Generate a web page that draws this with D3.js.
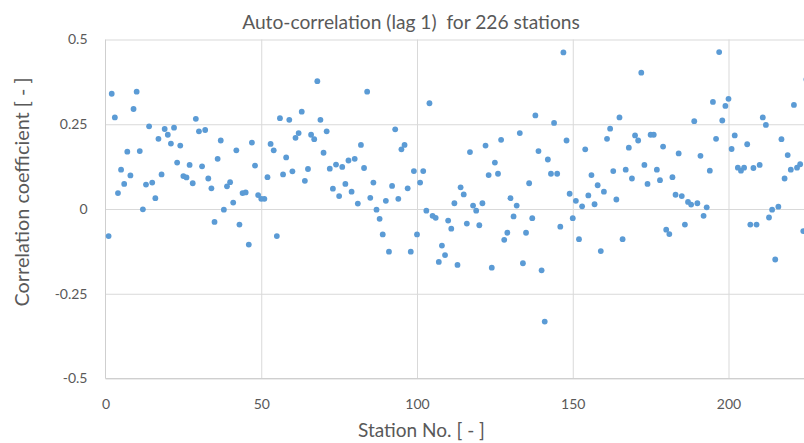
<!DOCTYPE html>
<html>
<head>
<meta charset="utf-8">
<script src="https://cdn.jsdelivr.net/npm/d3@7"></script>
<style>
  html, body { margin: 0; padding: 0; background: #ffffff; overflow: hidden; }
  svg { display: block; }
  text { font-family: Lato, "Open Sans", sans-serif; fill: #595959; }
</style>
</head>
<body>
<svg id="chart" width="804" height="443"></svg>
<script>
// ---- data ----
const titleText = "Auto-correlation (lag 1)  for 226 stations";
const xLabelText = "Station No. [ - ]";
const yLabelText = "Correlation coefficient [ - ]";
const xTicks = [0, 50, 100, 150, 200];
const yTicks = [-0.5, -0.25, 0, 0.25, 0.5];
const yTickLabels = ["-0.5", "-0.25", "0", "0.25", "0.5"];
const stations = d3.range(1, 227);
const correlations = [
  -0.080, 0.340, 0.270, 0.047, 0.116, 0.074, 0.169, 0.099, 0.295, 0.346,
   0.171,-0.001, 0.072, 0.244, 0.078, 0.032, 0.207, 0.102, 0.236, 0.219,
   0.193, 0.240, 0.137, 0.187, 0.097, 0.093, 0.130, 0.076, 0.266, 0.229,
   0.126, 0.233, 0.090, 0.061,-0.038, 0.148, 0.202,-0.002, 0.067, 0.079,
   0.019, 0.173,-0.046, 0.047, 0.049,-0.105, 0.196, 0.128, 0.041, 0.030,
   0.030, 0.094, 0.192, 0.173,-0.080, 0.268, 0.102, 0.152, 0.263, 0.111,
   0.210, 0.224, 0.287, 0.083, 0.118, 0.219, 0.206, 0.377, 0.263, 0.166,
   0.229, 0.119, 0.060, 0.131, 0.038, 0.124, 0.074, 0.143, 0.051, 0.148,
   0.016, 0.189, 0.121, 0.346, 0.033, 0.078,-0.002,-0.029,-0.075, 0.024,
  -0.126, 0.068, 0.235, 0.030, 0.176, 0.189, 0.061,-0.126, 0.112,-0.075,
   0.078, 0.112,-0.005, 0.312,-0.020,-0.026,-0.156,-0.108,-0.136,-0.034,
  -0.058, 0.017,-0.165, 0.064, 0.043,-0.043, 0.168, 0.010,-0.005,-0.048,
   0.017, 0.187, 0.100,-0.173, 0.137, 0.104, 0.204,-0.091,-0.070, 0.032,
  -0.022, 0.010, 0.224,-0.160,-0.070, 0.076,-0.027, 0.276, 0.171,-0.181,
  -0.332, 0.146, 0.104, 0.254, 0.104,-0.052, 0.462, 0.202, 0.045,-0.027,
   0.024,-0.089, 0.008, 0.176, 0.040, 0.100, 0.014, 0.070,-0.124, 0.051,
   0.207, 0.237, 0.112, 0.028, 0.270,-0.089, 0.116, 0.181, 0.090, 0.217,
   0.202, 0.402, 0.130, 0.074, 0.219, 0.219, 0.116, 0.085, 0.184,-0.061,
  -0.074, 0.094, 0.042, 0.164, 0.038,-0.046, 0.021, 0.013, 0.259, 0.017,
   0.157,-0.020, 0.005, 0.113, 0.316, 0.207, 0.463, 0.261, 0.304, 0.325,
   0.177, 0.217, 0.122, 0.113, 0.122, 0.191,-0.046, 0.121,-0.046, 0.130,
   0.270, 0.248,-0.025,-0.002,-0.149, 0.007, 0.206, 0.090, 0.159, 0.116,
   0.307, 0.122, 0.132,-0.065, 0.382, 0.120
];

// ---- layout ----
const svg = d3.select("#chart");
const plotLeft = 105.5, plotRight = 809.5, plotTop = 39.5, plotBottom = 378.5;
const x = d3.scaleLinear().domain([0, 226]).range([plotLeft, plotRight]);
const y = d3.scaleLinear().domain([-0.5, 0.5]).range([plotBottom, plotTop]);

function fitWidth(sel, target) {
  const w = sel.node().getComputedTextLength();
  const fs = parseFloat(sel.attr("font-size"));
  if (w > 0) sel.attr("font-size", (fs * target / w).toFixed(2));
}

// gridlines
svg.append("g")
  .attr("transform", `translate(0,${plotBottom})`)
  .call(d3.axisBottom(x).tickValues(xTicks.filter(d => d > 0)).tickSize(-(plotBottom - plotTop)).tickFormat(""))
  .call(g => g.select(".domain").remove())
  .call(g => g.selectAll("line").attr("stroke", "#d9d9d9").attr("stroke-width", 1));

svg.append("g")
  .attr("transform", `translate(${plotLeft},0)`)
  .call(d3.axisLeft(y).tickValues(yTicks).tickSize(-(plotRight - plotLeft)).tickFormat(""))
  .call(g => g.select(".domain").remove())
  .call(g => g.selectAll("line").attr("stroke", "#d9d9d9").attr("stroke-width", 1));

// axis lines
svg.append("line").attr("x1", plotLeft).attr("x2", plotLeft).attr("y1", plotTop).attr("y2", plotBottom)
  .attr("stroke", "#cfcfcf").attr("stroke-width", 1);
svg.append("line").attr("x1", plotLeft).attr("x2", plotRight).attr("y1", plotBottom).attr("y2", plotBottom)
  .attr("stroke", "#cfcfcf").attr("stroke-width", 1);

// tick labels
const xAx = svg.append("g")
  .attr("transform", `translate(0,${plotBottom})`)
  .call(d3.axisBottom(x).tickValues(xTicks).tickSize(0).tickPadding(21).tickFormat(d3.format("d")));
xAx.select(".domain").remove();
xAx.selectAll("text").attr("font-size", 14).attr("fill", "#595959")
  .attr("font-family", "Lato, 'Open Sans', sans-serif");

const yAx = svg.append("g")
  .attr("transform", `translate(${plotLeft},0)`)
  .call(d3.axisLeft(y).tickValues(yTicks).tickSize(0).tickPadding(18)
    .tickFormat((d, i) => yTickLabels[i]));
yAx.select(".domain").remove();
yAx.selectAll("text").attr("font-size", 14).attr("fill", "#595959")
  .attr("font-family", "Lato, 'Open Sans', sans-serif");

// points
svg.append("g")
  .selectAll("circle")
  .data(stations.map((s, i) => ({ s, v: correlations[i] })))
  .join("circle")
  .attr("cx", d => x(d.s))
  .attr("cy", d => y(d.v))
  .attr("r", 2.9)
  .attr("fill", "#5b9bd5");

// title & axis titles
const title = svg.append("text")
  .attr("x", 411).attr("y", 29)
  .attr("text-anchor", "middle")
  .attr("font-size", 18)
  .style("white-space", "pre")
  .text(titleText);
fitWidth(title, 338);

const xl = svg.append("text")
  .attr("x", 421.5).attr("y", 437)
  .attr("text-anchor", "middle")
  .attr("font-size", 15)
  .text(xLabelText);
fitWidth(xl, 127);

const yl = svg.append("text")
  .attr("transform", "translate(29,192) rotate(-90)")
  .attr("text-anchor", "middle")
  .attr("font-size", 15)
  .text(yLabelText);
fitWidth(yl, 229);
</script>
</body>
</html>
